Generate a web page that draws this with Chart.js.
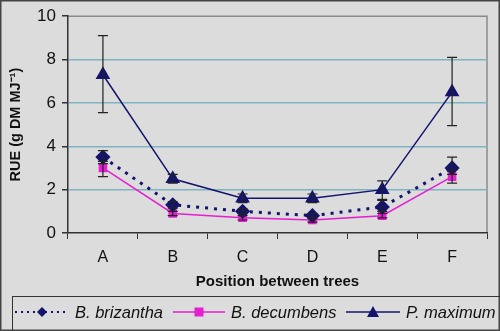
<!DOCTYPE html>
<html>
<head>
<meta charset="utf-8">
<script src="https://cdn.jsdelivr.net/npm/chart.js@4.4.1/dist/chart.umd.min.js"></script>
<style>
  html, body { margin: 0; padding: 0; background: #dcdcdc; }
  #wrap { position: relative; width: 500px; height: 331px; overflow: hidden; }
  #legend {
    position: absolute; left: 12px; top: 296px; width: 492px; height: 40px;
    border: 1px solid #333; box-sizing: border-box;
    font-family: 'Liberation Sans', Arial, sans-serif; font-style: italic; font-size: 16.5px; color: #111;
  }
  #legend .it { position: absolute; top: 5px; height: 20px; line-height: 20px; white-space: nowrap; }
  #legend svg { position: absolute; top: 0; }
</style>
</head>
<body>
<div id="wrap">
  <canvas id="c" width="500" height="331"></canvas>
  <div id="legend"></div>
</div>
<script>
// positions along the transect
const positions = ['A', 'B', 'C', 'D', 'E', 'F'];
const yTicks = [0, 2, 4, 6, 8, 10];

// RUE means
const brizantha = [3.5, 1.3, 1.0, 0.8, 1.2, 3.0];
const decumbens = [3.0, 0.9, 0.7, 0.6, 0.8, 2.6];
const maximum   = [7.3, 2.5, 1.6, 1.6, 2.0, 6.5];

// error bar limits (low / high)
const brizLo = [3.2, 1.15, 0.9, 0.7, 1.0, 2.7];
const brizHi = [3.8, 1.45, 1.1, 0.9, 1.5, 3.5];
const decuLo = [2.6, 0.8, 0.6, 0.5, 0.7, 2.3];
const decuHi = [3.3, 1.0, 0.8, 0.7, 0.9, 2.9];
const maxiLo = [5.55, 2.3, 1.4, 1.4, 1.55, 4.95];
const maxiHi = [9.1, 2.7, 1.8, 1.8, 2.4, 8.1];

const NAVY = '#14146e';
const MAGENTA = '#e61ed2';
const FONT = "'Liberation Sans', Arial, sans-serif";

// Fondo, marco exterior y borde del área de trazado
const framePlugin = {
  id: 'frame',
  beforeDraw(chart) {
    const { ctx, chartArea: a } = chart;
    ctx.save();
    ctx.fillStyle = '#dcdcdc';
    ctx.fillRect(0, 0, chart.width, chart.height);
    ctx.strokeStyle = '#8a8a8a';
    ctx.lineWidth = 1.5;
    ctx.beginPath();
    ctx.moveTo(a.left, a.top); ctx.lineTo(a.right, a.top); ctx.lineTo(a.right, a.bottom);
    ctx.stroke();
    ctx.restore();
  },
  afterDraw(chart) {
    const { ctx } = chart;
    ctx.save();
    ctx.strokeStyle = '#444';
    ctx.lineWidth = 3;
    ctx.strokeRect(0, 0, chart.width, chart.height);
    ctx.restore();
  }
};

// Barras de error dibujadas con las escalas del gráfico
const errorPlugin = {
  id: 'errbars',
  afterDatasetsDraw(chart) {
    const { ctx, scales: { x, y } } = chart;
    ctx.save();
    ctx.strokeStyle = '#222';
    ctx.lineWidth = 1.2;
    chart.data.datasets.forEach(ds => {
      if (!ds.lo) return;
      ds.lo.forEach((lo, i) => {
        const px = x.getPixelForValue(i);
        const y1 = y.getPixelForValue(lo), y2 = y.getPixelForValue(ds.hi[i]);
        ctx.beginPath();
        ctx.moveTo(px, y1); ctx.lineTo(px, y2);
        ctx.moveTo(px - 5, y1); ctx.lineTo(px + 5, y1);
        ctx.moveTo(px - 5, y2); ctx.lineTo(px + 5, y2);
        ctx.stroke();
      });
    });
    ctx.restore();
  }
};

new Chart(document.getElementById('c'), {
  type: 'line',
  data: {
    labels: positions,
    datasets: [
      { label: 'B. brizantha', data: brizantha, lo: brizLo, hi: brizHi, borderColor: NAVY, backgroundColor: NAVY,
        borderWidth: 3, borderDash: [3, 6], pointStyle: 'rectRot', pointRadius: 5.5, order: 2 },
      { label: 'B. decumbens', data: decumbens, lo: decuLo, hi: decuHi, borderColor: MAGENTA, backgroundColor: MAGENTA,
        borderWidth: 1.5, pointStyle: 'rect', pointRadius: 5, order: 3 },
      { label: 'P. maximum', data: maximum, lo: maxiLo, hi: maxiHi, borderColor: NAVY, backgroundColor: NAVY,
        borderWidth: 1.5, pointStyle: 'triangle', pointRadius: 7, order: 1 }
    ]
  },
  options: {
    responsive: false, animation: false,
    layout: { padding: { top: 15, right: 13, bottom: 35, left: 0 } },
    plugins: { legend: { display: false }, tooltip: { enabled: false } },
    elements: { line: { tension: 0 }, point: { borderWidth: 1 } },
    scales: {
      x: {
        offset: true,
        grid: { offset: true, drawOnChartArea: false, tickColor: '#333', tickLength: 6 },
        border: { color: '#333', width: 1.5 },
        ticks: { color: '#111', font: { family: FONT, size: 16 }, padding: 9 },
        title: { display: true, text: 'Position between trees', color: '#111',
          font: { family: FONT, size: 15, weight: 'bold' }, padding: { top: 2, bottom: 5 } },
        afterFit: s => { s.height = 63; }
      },
      y: {
        min: 0, max: 10,
        afterBuildTicks: s => { s.ticks = yTicks.map(v => ({ value: v })); },
        grid: { color: c => (c.tick.value === 0 || c.tick.value === 10) ? 'rgba(0,0,0,0)' : '#7fb3bf',
          lineWidth: 1.5, tickColor: '#333', tickLength: 6 },
        border: { color: '#333', width: 1.5 },
        ticks: { color: '#111', font: { family: FONT, size: 17 }, padding: 6 },
        title: { display: true, text: 'RUE (g DM MJ\u207b\u00b9)', color: '#111',
          font: { family: FONT, size: 14.5, weight: 'bold' }, padding: { top: 7, bottom: 0 } },
        afterFit: s => { s.width = 68; }
      }
    }
  },
  plugins: [framePlugin, errorPlugin]
});

// Leyenda en HTML con línea y marcador de cada serie
const legendItems = [
  { text: 'B. brizantha', x: 2, lineW: 54, color: NAVY, dash: '2 4', w: 2, mark: 'diamond' },
  { text: 'B. decumbens', x: 160, lineW: 52, color: MAGENTA, dash: '', w: 1.5, mark: 'square' },
  { text: 'P. maximum', x: 333, lineW: 54, color: NAVY, dash: '', w: 1.5, mark: 'triangle' }
];
const lg = document.getElementById('legend');
legendItems.forEach(it => {
  const cx = it.lineW / 2;
  let m = '';
  if (it.mark === 'diamond') m = `<polygon points="${cx},5 ${cx + 5},10 ${cx},15 ${cx - 5},10" fill="${it.color}"/>`;
  if (it.mark === 'square') m = `<rect x="${cx - 4.5}" y="5.5" width="9" height="9" fill="${it.color}"/>`;
  if (it.mark === 'triangle') m = `<polygon points="${cx},4 ${cx + 6},15 ${cx - 6},15" fill="${it.color}"/>`;
  const el = document.createElement('div');
  el.className = 'it';
  el.style.left = it.x + 'px';
  el.innerHTML = `<svg width="${it.lineW}" height="20"><line x1="0" y1="10" x2="${it.lineW}" y2="10" stroke="${it.color}" stroke-width="${it.w}" ${it.dash ? `stroke-dasharray="${it.dash}"` : ''}/>${m}</svg><span style="margin-left:${it.lineW + 6}px">${it.text}</span>`;
  lg.appendChild(el);
});
</script>
</body>
</html>
